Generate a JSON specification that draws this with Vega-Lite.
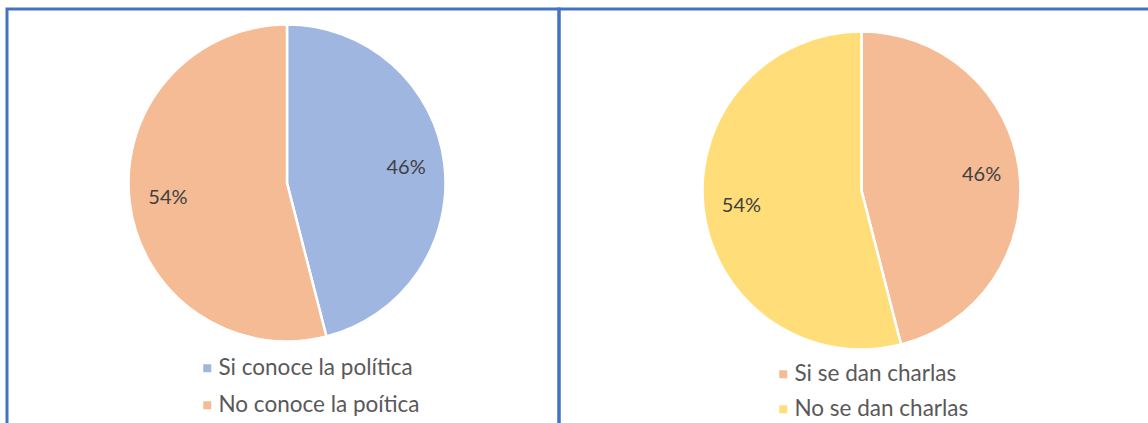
{
  "$schema": "https://vega.github.io/schema/vega-lite/v6.json",
  "background": "white",
  "padding": {"left": 5, "top": 7, "right": 0, "bottom": 0},
  "spacing": 0,
  "bounds": "flush",
  "resolve": {"scale": {"color": "independent", "theta": "independent"}, "legend": {"color": "independent"}},
  "config": {
    "view": {"stroke": "#4472c4", "strokeWidth": 3},
    "font": "Lato",
    "legend": {
      "orient": "none",
      "title": null,
      "padding": 0,
      "symbolType": "square",
      "symbolSize": 64,
      "symbolStrokeWidth": 0,
      "labelFont": "Lato",
      "labelFontSize": 22.5,
      "labelColor": "#595959",
      "labelOffset": 0,
      "labelLimit": 400
    }
  },
  "hconcat": [
    {
      "width": 552,
      "height": 430,
      "view": {"stroke": "#4472c4", "strokeWidth": 3},
      "data": {"values": [
        {"categoria": "Si conoce la política", "valor": 46, "orden": 1, "etiqueta": "46%"},
        {"categoria": "No conoce la poítica", "valor": 54, "orden": 2, "etiqueta": "54%"}
      ]},
      "encoding": {
        "theta": {"field": "valor", "type": "quantitative", "stack": true},
        "order": {"field": "orden", "type": "quantitative"}
      },
      "layer": [
        {
          "mark": {"type": "arc", "outerRadius": 158.5, "stroke": "white", "strokeWidth": 2.5, "x": 280, "y": 174},
          "encoding": {
            "color": {
              "field": "categoria", "type": "nominal",
              "scale": {"domain": ["Si conoce la política", "No conoce la poítica"], "range": ["#9eb6e0", "#f5bb94"]},
              "legend": {"legendX": 189, "legendY": 348, "rowPadding": 14}
            }
          }
        },
        {
          "mark": {"type": "text", "radius": 120, "fontSize": 20, "font": "Lato", "fill": "#404040", "x": 280, "y": 174},
          "encoding": {
            "text": {"field": "etiqueta"},
            "detail": {"field": "categoria"}
          }
        }
      ]
    },
    {
      "width": 620,
      "height": 430,
      "view": {"stroke": "#4472c4", "strokeWidth": 3},
      "data": {"values": [
        {"categoria": "Si se dan charlas", "valor": 46, "orden": 1, "etiqueta": "46%"},
        {"categoria": "No se dan charlas", "valor": 54, "orden": 2, "etiqueta": "54%"}
      ]},
      "encoding": {
        "theta": {"field": "valor", "type": "quantitative", "stack": true},
        "order": {"field": "orden", "type": "quantitative"}
      },
      "layer": [
        {
          "mark": {"type": "arc", "outerRadius": 159, "stroke": "white", "strokeWidth": 2.5, "x": 302.5, "y": 181.5},
          "encoding": {
            "color": {
              "field": "categoria", "type": "nominal",
              "scale": {"domain": ["Si se dan charlas", "No se dan charlas"], "range": ["#f5bb94", "#ffde7a"]},
              "legend": {"legendX": 213, "legendY": 354, "rowPadding": 12}
            }
          }
        },
        {
          "mark": {"type": "text", "radius": 121, "fontSize": 20, "font": "Lato", "fill": "#404040", "x": 302.5, "y": 181.5},
          "encoding": {
            "text": {"field": "etiqueta"},
            "detail": {"field": "categoria"}
          }
        }
      ]
    }
  ]
}
